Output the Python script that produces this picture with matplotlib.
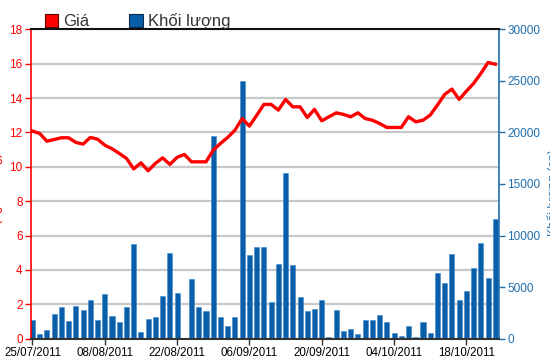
import matplotlib
matplotlib.use("Agg")
import matplotlib.pyplot as plt
from matplotlib.patches import Patch
import numpy as np

plt.rcParams['font.family'] = ['Liberation Sans', 'DejaVu Sans']

# ---- data ----
price = [12.08, 11.94, 11.49, 11.59, 11.69, 11.69, 11.42, 11.32, 11.71, 11.61,
         11.26, 11.05, 10.78, 10.49, 9.88, 10.23, 9.77, 10.20, 10.52, 10.14,
         10.55, 10.72, 10.29, 10.29, 10.29, 10.97, 11.36, 11.71, 12.13, 12.81,
         12.37, 12.99, 13.63, 13.63, 13.30, 13.92, 13.49, 13.49, 12.87, 13.34,
         12.68, 12.91, 13.14, 13.05, 12.91, 13.14, 12.81, 12.71, 12.52, 12.29,
         12.29, 12.29, 12.91, 12.62, 12.71, 13.01, 13.59, 14.21, 14.52, 13.92,
         14.40, 14.85, 15.43, 16.07, 15.97]
volume = [1810, 420, 870, 2420, 3040, 1680, 3170, 2780, 3710, 1810,
          4330, 2160, 1580, 3040, 9140, 650, 1940, 2070, 4130, 8270,
          4460, 0, 5810, 3040, 2680, 19700, 2070, 1230, 2070, 25000,
          8070, 8920, 8920, 3520, 7200, 16020, 7100, 4040, 2650, 2870,
          3750, 130, 2780, 775, 900, 420, 1810, 1810, 2330, 1580,
          520, 290, 1230, 130, 1580, 520, 6400, 5430, 8170, 3750,
          4590, 6880, 9270, 5910, 11560]
tick_labels = ["25/07/2011", "08/08/2011", "22/08/2011", "06/09/2011",
               "20/09/2011", "04/10/2011", "18/10/2011"]
price_ticks = [0, 2, 4, 6, 8, 10, 12, 14, 16, 18]
volume_ticks = [0, 5000, 10000, 15000, 20000, 25000, 30000]
legend_labels = ["Giá", "Khối lượng"]

RED = '#ff0000'
BLUE = '#1f6fae'
BAR = '#0a5ea8'

fig = plt.figure(figsize=(5.5, 3.64), dpi=100)
ax = fig.add_axes([31/550, 1-338.7/364, (498.7-31)/550, (338.7-29.3)/364])
ax2 = ax.twinx()
ax.set_zorder(2)
ax2.set_zorder(1)
ax.patch.set_visible(False)

x = np.arange(len(price))

# grid lines aligned with price ticks, drawn on the volume axis (behind bars)
vmax = volume_ticks[-1]
pmax = price_ticks[-1]
for p in price_ticks[1:-1]:
    ax2.axhline(p * vmax / pmax, color='#c8c8c8', lw=1.6, zorder=0)

ax2.bar(x, volume, width=0.7, color=BAR, edgecolor='#3f8ad0', linewidth=0.4, zorder=2)
ax.plot(x, price, color=RED, lw=2.4, solid_joinstyle='round', zorder=3)

ax.set_xlim(-0.2, len(price) - 0.53)
ax.set_ylim(0, pmax)
ax2.set_ylim(0, vmax)

ax.set_yticks(price_ticks)
ax.set_yticklabels([str(t) for t in price_ticks])
ax2.set_yticks(volume_ticks)
ax2.set_yticklabels([str(t) for t in volume_ticks])
ax.set_xticks(np.arange(0, len(price), 10)[:len(tick_labels)])
ax.set_xticklabels(tick_labels)

ax.tick_params(axis='y', colors=RED, labelcolor=RED, labelsize=8.5, length=4, width=1, pad=2)
ax2.tick_params(axis='y', colors=BLUE, labelcolor=BLUE, labelsize=8.5, length=4, width=1, pad=2)
ax.tick_params(axis='x', colors='#333333', labelcolor='black', labelsize=8.3, length=4, width=1, pad=2)

for s in ['left', 'right', 'top', 'bottom']:
    ax2.spines[s].set_visible(False)
ax2.spines['right'].set_visible(True)
ax2.spines['right'].set_color(BLUE)
ax2.spines['right'].set_linewidth(1.2)
ax.spines['right'].set_visible(False)
ax.spines['left'].set_color(RED)
ax.spines['left'].set_linewidth(1.2)
ax.spines['top'].set_color('#111111')
ax.spines['top'].set_linewidth(1.5)
ax.spines['bottom'].set_color('#333333')
ax.spines['bottom'].set_linewidth(1.5)

# axis titles, mostly clipped at the image edges as in the reference
fig.text(3/550, 1-200/364, "Giá (nghìn đồng)", rotation=90, color=RED,
         ha='right', va='center', fontsize=9)
fig.text(547.5/550, 1-193/364, "Khối lượng (cp)", rotation=90, color=BLUE,
         ha='left', va='center', fontsize=9)

handles = [Patch(facecolor=RED, edgecolor='#600000', linewidth=0.8),
           Patch(facecolor=BAR, edgecolor='#0a2a50', linewidth=0.8)]
fig.legend(handles, legend_labels, loc='upper left', bbox_to_anchor=(30/550, 1.005),
           ncol=2, frameon=False, fontsize=12, handlelength=0.8, handleheight=0.8,
           handletextpad=0.3, columnspacing=2.4, labelcolor='#333333')

fig.savefig('out.png', dpi=100)
